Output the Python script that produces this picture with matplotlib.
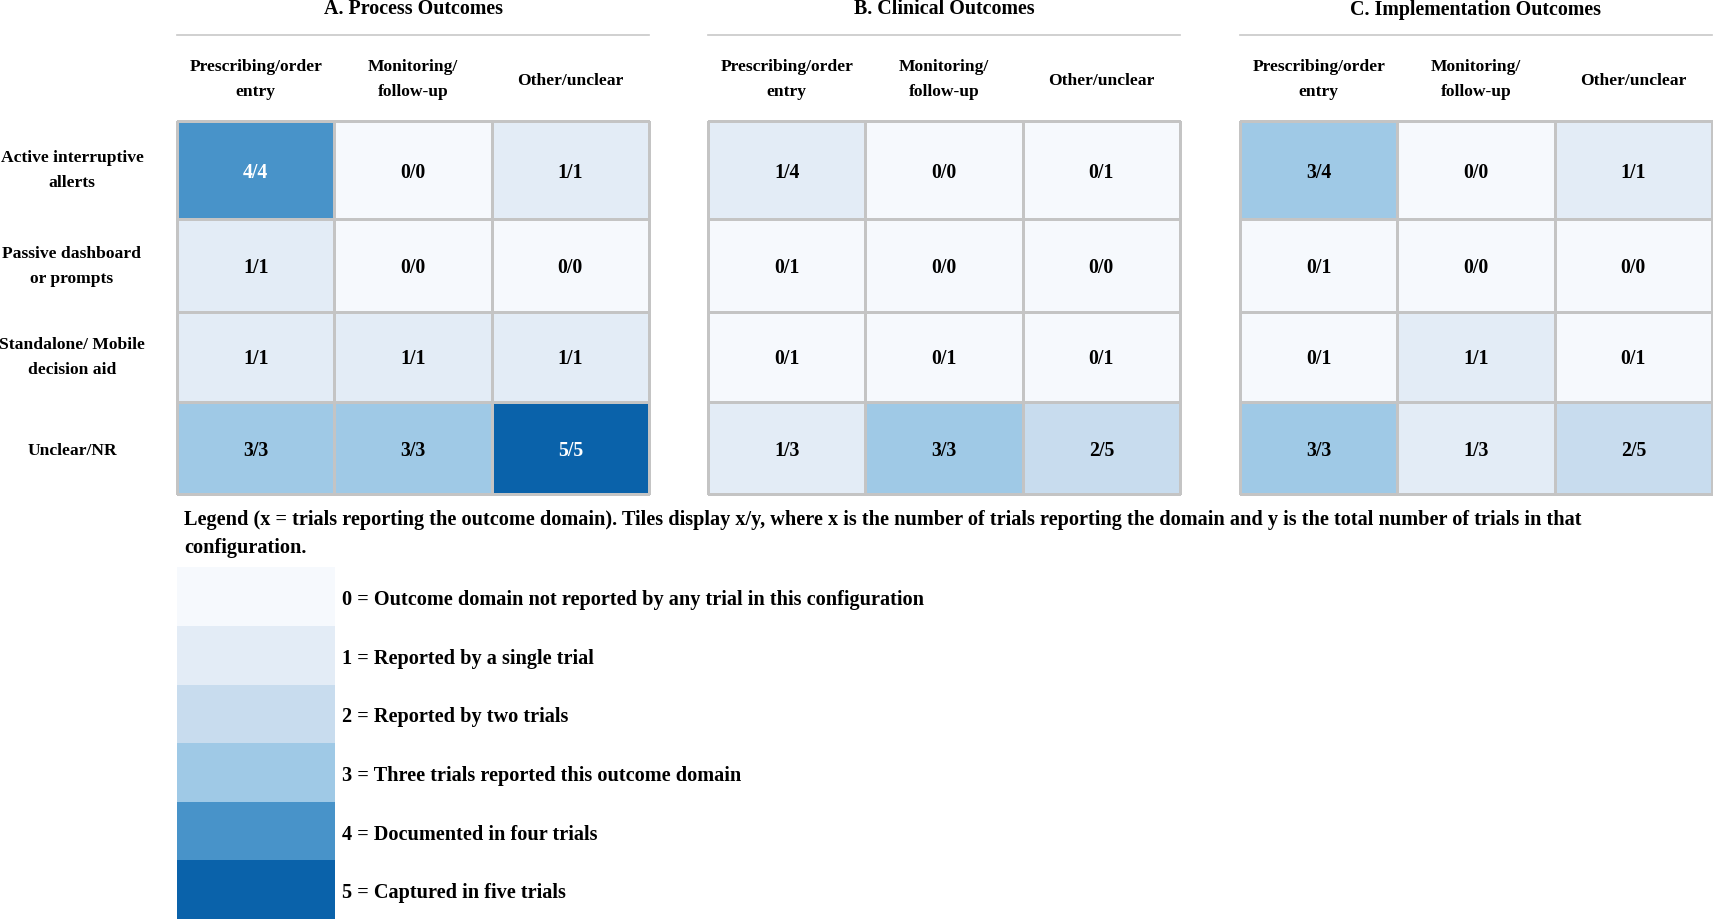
import numpy as np
import matplotlib
matplotlib.use("Agg")
import matplotlib.pyplot as plt
from matplotlib.colors import ListedColormap, BoundaryNorm

# ---------------- data ----------------
panels = ["A. Process Outcomes", "B. Clinical Outcomes", "C. Implementation Outcomes"]
columns = ["Prescribing/order\nentry", "Monitoring/\nfollow-up", "Other/unclear"]
rows = ["Active interruptive\nallerts", "Passive dashboard\nor prompts",
        "Standalone/ Mobile\ndecision aid", "Unclear/NR"]

totals = [[4, 0, 1],
          [1, 0, 0],
          [1, 1, 1],
          [3, 3, 5]]

process = [[4, 0, 1],
           [1, 0, 0],
           [1, 1, 1],
           [3, 3, 5]]
clinical = [[1, 0, 0],
            [0, 0, 0],
            [0, 0, 0],
            [1, 3, 2]]
implementation = [[3, 0, 1],
                  [0, 0, 0],
                  [0, 1, 0],
                  [3, 1, 2]]
panel_values = [process, clinical, implementation]

legend_levels = [0, 1, 2, 3, 4, 5]
legend_labels = ["0 = Outcome domain not reported by any trial in this configuration",
                 "1 = Reported by a single trial",
                 "2 = Reported by two trials",
                 "3 = Three trials reported this outcome domain",
                 "4 = Documented in four trials",
                 "5 = Captured in five trials"]
legend_title = ("Legend (x = trials reporting the outcome domain). Tiles display x/y, where x is the number "
                "of trials reporting the domain and y is the total number of trials in that\nconfiguration.")

level_colors = ["#f6f9fd", "#e3ecf6", "#c8dcee", "#9fc9e6", "#4893c9", "#0a62aa"]

# ---------------- layout (pixels) ----------------
W, H = 1713, 920
plt.rcParams['font.family'] = ['Liberation Serif', 'DejaVu Serif']
fig = plt.figure(figsize=(W / 100, H / 100), dpi=100)
ax = fig.add_axes([0, 0, 1, 1])
ax.set_xlim(0, W)
ax.set_ylim(H, 0)
ax.axis('off')

cmap = ListedColormap(level_colors)
norm = BoundaryNorm(np.arange(-0.5, 6.5, 1), cmap.N)

panel_left = [177, 708, 1240]
panel_w = 472
row_edges = np.array([122.4, 220.0, 312.5, 403.3, 495.0])
grid_col = "#c4c4c4"

def multiline(x, ycenter, text, size, lspace, color="black", ha="center"):
    lines = text.split("\n")
    n = len(lines)
    cap = 0.662 * size * 100 / 72
    for i, ln in enumerate(lines):
        yb = ycenter + (i - (n - 1) / 2) * lspace + cap / 2
        ax.text(x, yb, ln, ha=ha, va="baseline", fontsize=size,
                fontweight="bold", color=color)

for p, (title, vals) in enumerate(zip(panels, panel_values)):
    x0 = panel_left[p]
    col_edges = np.linspace(x0, x0 + panel_w, 4)
    v = np.array(vals)
    ax.pcolormesh(col_edges, row_edges, v, cmap=cmap, norm=norm,
                  edgecolors=grid_col, linewidth=0.8)
    ax.plot([x0, x0 + panel_w, x0 + panel_w, x0, x0],
            [row_edges[0], row_edges[0], row_edges[-1], row_edges[-1], row_edges[0]],
            color=grid_col, lw=0.8)
    # title + underline
    ax.text(x0 + panel_w / 2, 14.5, title, ha="center", va="baseline",
            fontsize=14.4, fontweight="bold")
    ax.plot([x0, x0 + panel_w], [36, 36], color="#c8c8c8", lw=1.2)
    cc = (col_edges[:-1] + col_edges[1:]) / 2
    rc = (row_edges[:-1] + row_edges[1:]) / 2
    for j, c in enumerate(columns):
        yc = 78 if "\n" in c else 79
        multiline(cc[j], yc, c, 12.6, 25)
    for i in range(len(rows)):
        for j in range(len(columns)):
            val = vals[i][j]
            txt = f"{val}/{totals[i][j]}"
            col = "white" if val >= 4 else "black"
            multiline(cc[j], rc[i], txt, 14.3, 25, color=col)

rc = (row_edges[:-1] + row_edges[1:]) / 2
for i, r in enumerate(rows):
    shift = -2 if "\n" in r else 0
    multiline(72, rc[i] + shift, r, 12.6, 25)

# legend title
lt = legend_title.split("\n")
ax.text(184.5, 525, lt[0], ha="left", va="baseline", fontsize=14.6, fontweight="bold")
ax.text(184.5, 552.7, lt[1], ha="left", va="baseline", fontsize=14.6, fontweight="bold")

# legend swatches
leg_edges = np.linspace(568.3, 920, len(legend_levels) + 1)
ax.pcolormesh([177, 334.5], leg_edges, np.array(legend_levels).reshape(-1, 1),
              cmap=cmap, norm=norm, edgecolors="none")
lc = (leg_edges[:-1] + leg_edges[1:]) / 2
for k, lab in enumerate(legend_labels):
    multiline(342, lc[k] + 0.8, lab, 14.6, 25, ha="left")

fig.savefig("out.png", dpi=100, facecolor="white")
